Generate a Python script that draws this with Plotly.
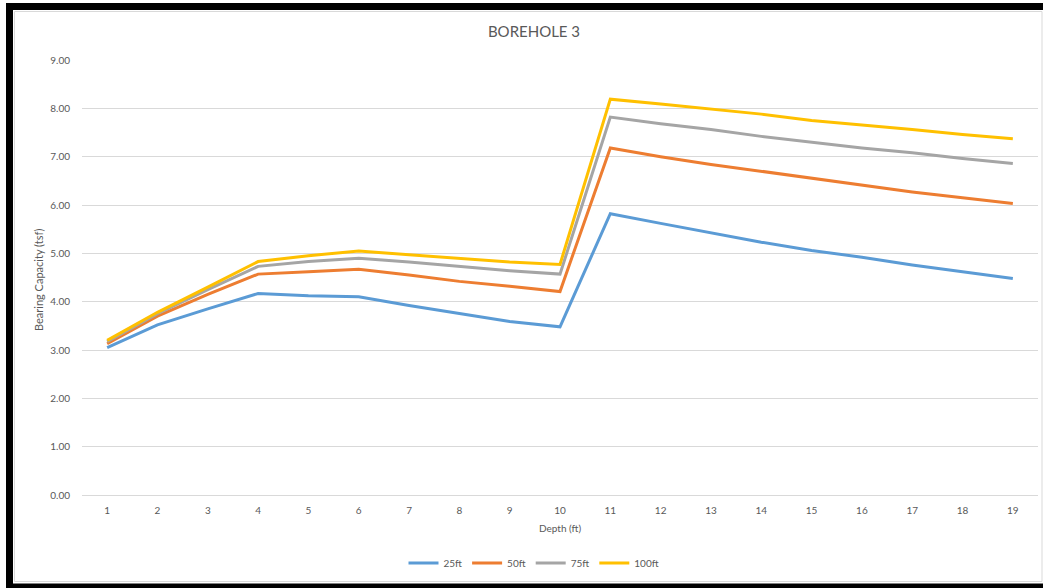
import plotly.graph_objects as go

# Depth categories (ft)
depth = [str(d) for d in range(1, 20)]

# Bearing capacity (tsf) per footing width
cap_25ft = [3.05, 3.52, 3.85, 4.17, 4.12, 4.10, 3.92, 3.76, 3.59, 3.48,
            5.82, 5.62, 5.42, 5.23, 5.06, 4.92, 4.76, 4.62, 4.48]
cap_50ft = [3.13, 3.70, 4.15, 4.57, 4.62, 4.67, 4.55, 4.42, 4.32, 4.21,
            7.18, 7.00, 6.84, 6.70, 6.56, 6.42, 6.27, 6.15, 6.03]
cap_75ft = [3.17, 3.75, 4.25, 4.73, 4.83, 4.90, 4.82, 4.73, 4.64, 4.57,
            7.82, 7.68, 7.56, 7.42, 7.30, 7.18, 7.08, 6.96, 6.86]
cap_100ft = [3.20, 3.78, 4.30, 4.83, 4.95, 5.05, 4.97, 4.89, 4.82, 4.77,
             8.19, 8.09, 7.98, 7.88, 7.75, 7.66, 7.56, 7.46, 7.37]

series = [
    ("25ft", cap_25ft, "#5B9BD5"),
    ("50ft", cap_50ft, "#ED7D31"),
    ("75ft", cap_75ft, "#A5A5A5"),
    ("100ft", cap_100ft, "#FFC000"),
]

FONT = "Lato, 'Open Sans', sans-serif"
TXT = "#595959"
GRID = "#D9D9D9"

W, H = 1043, 588
L, R, T, B = 82, 5, 60, 93
pw, ph = W - L - R, H - T - B


def px_x(x):
    return (x - L) / pw


def px_y(y):
    return (H - B - y) / ph


def frame_line(x0, y0, x1, y1, color, width, layer="above"):
    return dict(type="line", xref="paper", yref="paper",
                x0=px_x(x0), y0=px_y(y0), x1=px_x(x1), y1=px_y(y1),
                line=dict(color=color, width=width), layer=layer)


fig = go.Figure()
for name, vals, color in series:
    fig.add_trace(go.Scatter(
        x=depth, y=vals, name=name, mode="lines",
        line=dict(color=color, width=3),
    ))

fig.update_layout(
    width=W, height=H,
    margin=dict(l=L, r=R, t=T, b=B),
    paper_bgcolor="white", plot_bgcolor="white",
    font=dict(family=FONT, size=10, color=TXT),
    title=dict(text="BOREHOLE 3", x=534 / W, xref="container",
               y=1 - 32 / H, yref="container", xanchor="center",
               yanchor="middle", font=dict(size=15, color=TXT)),
    showlegend=True,
    legend=dict(orientation="h", x=px_x(534), y=px_y(563),
                xanchor="center", yanchor="middle",
                font=dict(size=10, color=TXT), itemwidth=30,
                bgcolor="rgba(0,0,0,0)"),
    xaxis=dict(type="category", range=[-0.5, len(depth) - 0.5],
               showgrid=False, zeroline=False,
               showline=True, linecolor=GRID, linewidth=1,
               ticks="outside", ticklen=6, tickcolor="rgba(0,0,0,0)",
               tickfont=dict(size=10, color=TXT)),
    yaxis=dict(range=[0, 9], dtick=1, tickformat=".2f",
               showgrid=True, gridcolor=GRID, gridwidth=1,
               zeroline=False, showline=False,
               ticks="outside", ticklen=9, tickcolor="rgba(0,0,0,0)",
               tickfont=dict(size=10, color=TXT)),
    annotations=[
        dict(text="Bearing Capacity (tsf)", xref="paper", yref="paper",
             x=px_x(38), y=px_y(280), textangle=-90, showarrow=False,
             xanchor="center", yanchor="middle",
             font=dict(size=11, color=TXT)),
        dict(text="Depth (ft)", xref="paper", yref="paper",
             x=px_x(560), y=px_y(528), showarrow=False,
             xanchor="center", yanchor="middle",
             font=dict(size=10, color=TXT)),
    ],
    shapes=[
        # thin inner edge of the chart area
        dict(type="rect", xref="paper", yref="paper",
             x0=px_x(14.5), x1=px_x(1042), y0=px_y(11.5), y1=px_y(581.5),
             line=dict(color=GRID, width=1), fillcolor="rgba(0,0,0,0)",
             layer="below"),
        # outer black frame: left, top and bottom edges
        frame_line(9.5, 3, 9.5, 588, "black", 7),
        frame_line(6, 6.5, 1043, 6.5, "black", 7),
        frame_line(6, 586, 1043, 586, "black", 5),
    ],
)

fig.write_html("out.html")
